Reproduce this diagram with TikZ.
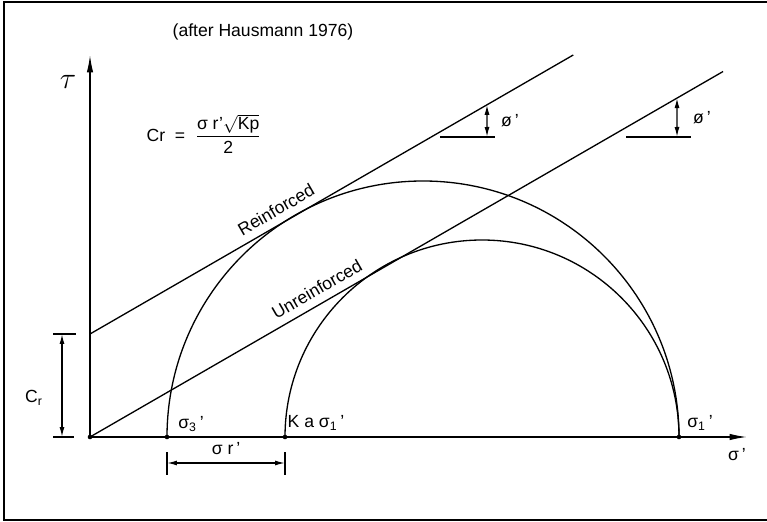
\documentclass[tikz,border=0pt]{standalone}
\usepackage{amsmath}
\usepackage{fontspec}
\setmainfont{Liberation Sans}
\usetikzlibrary{positioning, arrows.meta, calc}

\begin{document}
\begin{tikzpicture}[x=0.02cm, y=0.02cm,
                axis/.style={line width=0.8pt, -{Latex[length=3.5mm, width=1.3mm]}},
                edge/.style={line width=0.75pt},
                dim/.style={line width=0.75pt, {Latex[length=2mm, width=1mm]}-{Latex[length=2mm, width=1mm]}},
                varlabel/.style={font=\normalsize},
                dot/.style={circle, fill=black, inner sep=0pt, minimum size=2.6pt}
            ]

            \useasboundingbox (-90,-84) rectangle (677,437);

            % Rahmen
            \coordinate (fTR) at (677,435);
            \coordinate (fTL) at (-86,435);
            \coordinate (fBL) at (-86,-83);
            \coordinate (fBR) at (677,-83);
            \draw[line width=1.2pt] (fTR) -- (fTL) -- (fBL) -- (fBR);

            % Punkte
            \node[dot] (O) at (0,0) {};
            \coordinate (tauEnd) at (0,382);
            \coordinate (sigEnd) at (657,0);
            \node[dot] (s3) at (77,0) {};
            \node[dot] (ka) at (195,0) {};
            \node[dot] (s1) at (589,0) {};
            \coordinate (cr) at (0,103);
            \coordinate (rEnd) at ($(cr)+(30:558)$);
            \coordinate (uEnd) at (30:731);

            % Achsen
            \draw[axis] (O.center) -- (tauEnd);
            \draw[axis] (O.center) -- (sigEnd);
            \node[font=\LARGE] (tau) at (-22,355) {$\tau$};
            \node[varlabel] (sig) at (647,-18) {σ\,'};

            % Kreise
            \draw[edge] (s3.center) arc[start angle=180, end angle=0, radius=256];
            \draw[edge] (ka.center) arc[start angle=180, end angle=0, radius=197];

            % Geraden
            \draw[edge] (cr) -- (rEnd) node[pos=0.40, above=1pt, sloped, varlabel] {Reinforced};
            \draw[edge] (O.center) -- (uEnd) node[pos=0.37, above=1pt, sloped, varlabel] {Unreinforced};

            % Winkel
            \coordinate (p1) at ($(cr)+(30:458.4)$);
            \coordinate (p1b) at (397,300);
            \coordinate (h1a) at (350,300);
            \coordinate (h1b) at (405,300);
            \draw[edge] (h1a) -- (h1b);
            \draw[dim] (p1) -- (p1b);
            \node[varlabel] (phi1) at (420,316) {ø\,'};
            \coordinate (p2) at (30:677.8);
            \coordinate (p2b) at (587,300);
            \coordinate (h2a) at (536,300);
            \coordinate (h2b) at (601,300);
            \draw[edge] (h2a) -- (h2b);
            \draw[dim] (p2) -- (p2b);
            \node[varlabel] (phi2) at (612,319) {ø\,'};

            % Bemassung
            \coordinate (crA) at (-28,103);
            \coordinate (crB) at (-28,0);
            \coordinate (crT1a) at (-37,103);
            \coordinate (crT1b) at (-14,103);
            \coordinate (crT2a) at (-37,0);
            \coordinate (crT2b) at (-16,0);
            \draw[edge] (crT1a) -- (crT1b);
            \draw[edge] (crT2a) -- (crT2b);
            \draw[dim] (crA) -- (crB);
            \node[varlabel] (crlab) at (-56,39) {C\textsubscript{r}};
            \coordinate (srA) at (77,-26);
            \coordinate (srB) at (195,-26);
            \coordinate (srT1a) at (77,-15);
            \coordinate (srT1b) at (77,-38);
            \coordinate (srT2a) at (195,-15);
            \coordinate (srT2b) at (195,-38);
            \draw[edge] (srT1a) -- (srT1b);
            \draw[edge] (srT2a) -- (srT2b);
            \draw[dim] (srA) -- (srB) node[midway, above=1pt, varlabel] {σ r\,'};

            % Texte
            \node[varlabel] (s3lab) at (101,13) {σ\textsubscript{3}\,'};
            \node[varlabel] (kalab) at (226,14) {K a σ\textsubscript{1}\,'};
            \node[varlabel] (s1lab) at (610,14) {σ\textsubscript{1}\,'};
            \node[varlabel] (title) at (173,405) {(after Hausmann 1976)};
            \node[varlabel] (cform) at (114,303) {Cr \ = \ $\dfrac{\text{σ r'}\sqrt{\text{Kp}}}{\text{2}}$};

        \end{tikzpicture}
\end{document}
